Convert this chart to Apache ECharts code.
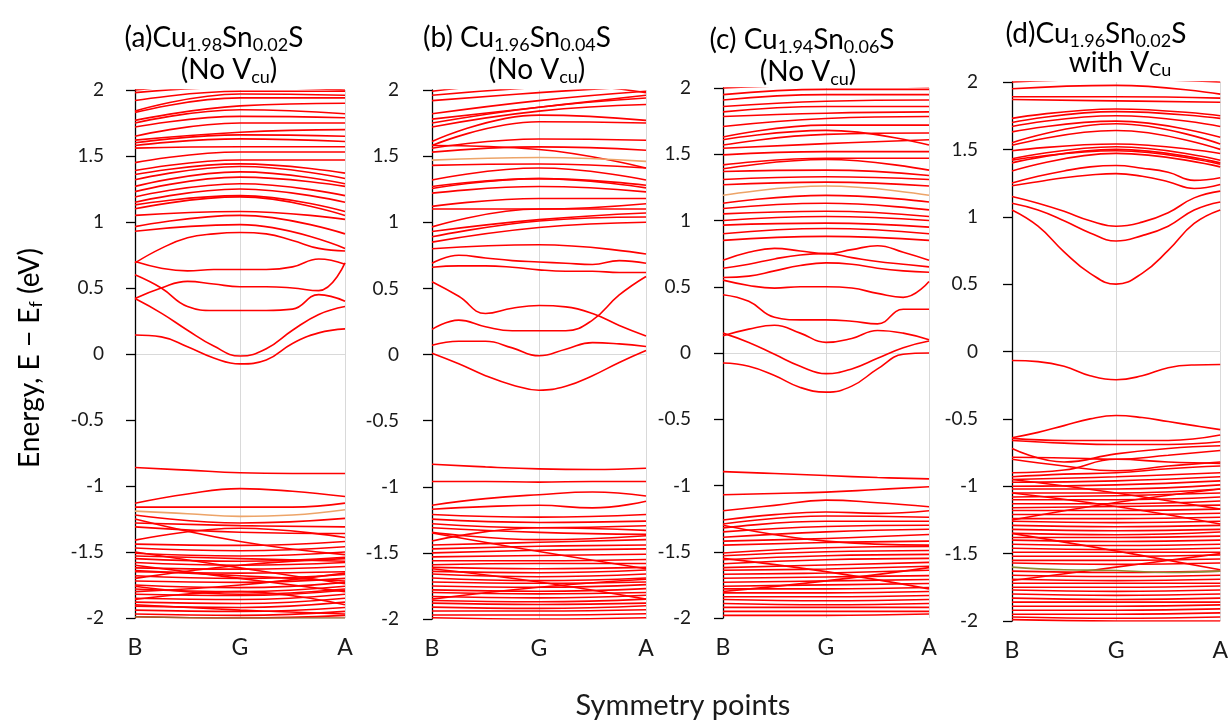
<!DOCTYPE html>
<html><head><meta charset="utf-8">
<style>html,body{margin:0;padding:0;background:#fff}#chart{width:1231px;height:721px}</style>
</head><body><div id="chart"></div>
<script src="https://cdn.jsdelivr.net/npm/echarts@6/dist/echarts.min.js"></script>
<script>
// k-path tick labels and positions (B, G, A)
const kLabels = ['B', 'G', 'A'];
const K3 = [0, 1, 2];
const K5 = [0, 0.5, 1, 1.5, 2];
const K9 = [0, 0.25, 0.5, 0.75, 1, 1.25, 1.5, 1.75, 2];

// ---- panel (a) Cu1.98Sn0.02S, no V_Cu ----
const aGap = [
  [0.69, 0.80, 0.88, 0.91, 0.92, 0.91, 0.86, 0.80, 0.78],
  [0.70, 0.65, 0.63, 0.64, 0.64, 0.64, 0.66, 0.72, 0.68],
  [0.42, 0.50, 0.55, 0.53, 0.51, 0.51, 0.50, 0.48, 0.69],
  [0.60, 0.50, 0.36, 0.33, 0.33, 0.33, 0.34, 0.45, 0.40],
  [0.42, 0.31, 0.18, 0.06, -0.015, 0.04, 0.18, 0.30, 0.36],
  [0.144, 0.13, 0.055, -0.03, -0.075, -0.045, 0.08, 0.16, 0.19]
];
const aLow = [
  [-0.86, -0.88, -0.90, -0.905, -0.905],
  [-1.13, -1.06, -1.02, -1.04, -1.08],
  [-1.16, -1.16, -1.16, -1.16, -1.13]
];
const aOrange = [[-1.19, -1.21, -1.23, -1.22, -1.18]];
const aBrown = [[-1.99, -2.0, -2.0]];
const aUpper = [
  [0.93, 0.98, 0.80], [0.965, 1.05, 0.91], [1.05, 1.08, 1.02], [1.10, 1.19, 1.05],
  [1.13, 1.20, 1.08], [1.15, 1.25, 1.15], [1.19, 1.29, 1.20], [1.23, 1.34, 1.27],
  [1.27, 1.38, 1.29], [1.32, 1.42, 1.33], [1.36, 1.44, 1.37], [1.39, 1.47, 1.47],
  [1.45, 1.53, 1.53], [1.56, 1.57, 1.57], [1.58, 1.63, 1.61], [1.60, 1.66, 1.65],
  [1.62, 1.68, 1.70], [1.65, 1.75, 1.75], [1.72, 1.80, 1.79], [1.75, 1.85, 1.82],
  [1.77, 1.88, 1.90], [1.83, 1.94, 1.94], [1.84, 1.97, 1.96], [1.92, 1.99, 1.99],
  [1.98, 2.02, 2.0], [2.0, 2.05, 2.03]
];
const aDense = [
  [-1.22, -1.28, -1.245], [-1.28, -1.30, -1.31], [-1.31, -1.35, -1.36], [-1.41, -1.32, -1.39],
  [-1.25, -1.42, -1.52], [-1.44, -1.45, -1.42], [-1.47, -1.49, -1.46], [-1.51, -1.53, -1.50],
  [-1.55, -1.57, -1.54], [-1.58, -1.60, -1.58], [-1.62, -1.63, -1.61], [-1.65, -1.66, -1.65],
  [-1.68, -1.70, -1.67], [-1.72, -1.73, -1.70], [-1.75, -1.77, -1.73], [-1.78, -1.80, -1.76],
  [-1.82, -1.83, -1.79], [-1.85, -1.86, -1.82], [-1.88, -1.89, -1.85], [-1.91, -1.92, -1.88],
  [-1.94, -1.95, -1.92], [-1.97, -1.98, -1.95], [-1.99, -2.0, -1.98], [-1.50, -1.62, -1.74],
  [-1.60, -1.70, -1.80], [-1.70, -1.60, -1.55], [-1.80, -1.75, -1.66], [-1.86, -1.80, -1.90],
  [-1.53, -1.55, -1.57], [-1.64, -1.68, -1.72], [-1.76, -1.82, -1.78], [-1.90, -1.94, -1.97]
];

// ---- panel (b) Cu1.96Sn0.04S, no V_Cu ----
const bGap = [
  [0.66, 0.67, 0.67, 0.66, 0.64, 0.63, 0.63, 0.62, 0.62],
  [0.69, 0.75, 0.73, 0.71, 0.70, 0.69, 0.68, 0.71, 0.69],
  [0.55, 0.44, 0.31, 0.35, 0.37, 0.36, 0.31, 0.22, 0.14],
  [0.19, 0.26, 0.21, 0.18, 0.18, 0.18, 0.26, 0.45, 0.59],
  [0.07, 0.10, 0.10, 0.05, -0.01, 0.04, 0.09, 0.08, 0.06],
  [0.01, -0.07, -0.16, -0.23, -0.27, -0.24, -0.16, -0.06, 0.03]
];
const bLow = [
  [-0.83, -0.85, -0.865, -0.87, -0.86],
  [-0.96, -0.96, -0.965, -0.96, -0.96],
  [-1.14, -1.09, -1.06, -1.04, -1.07],
  [-1.17, -1.15, -1.14, -1.16, -1.11]
];
const bOrange = [[1.47, 1.49, 1.46]];
const bUpper = [
  [0.80, 0.83, 0.76], [0.85, 0.96, 1.00], [0.89, 1.01, 1.04], [0.93, 1.02, 1.07],
  [0.965, 1.10, 1.10], [1.10, 1.10, 1.14], [1.12, 1.18, 1.18], [1.22, 1.27, 1.23],
  [1.255, 1.33, 1.26], [1.27, 1.33, 1.28], [1.32, 1.41, 1.32], [1.43, 1.44, 1.41],
  [1.53, 1.57, 1.545], [1.56, 1.63, 1.62], [1.58, 1.55, 1.41], [1.58, 1.76, 1.75],
  [1.61, 1.81, 1.77], [1.72, 1.84, 1.89], [1.75, 1.87, 1.94], [1.78, 1.87, 1.96],
  [1.82, 1.92, 1.99], [1.92, 1.98, 2.03], [1.96, 2.02, 2.05], [1.99, 2.05, 1.98]
];
const bDense = [
  [-1.21, -1.23, -1.21], [-1.245, -1.27, -1.26], [-1.28, -1.31, -1.295], [-1.31, -1.345, -1.36],
  [-1.41, -1.31, -1.33], [-1.345, -1.40, -1.37], [-1.44, -1.42, -1.40], [-1.47, -1.45, -1.44],
  [-1.50, -1.48, -1.47], [-1.35, -1.49, -1.62], [-1.53, -1.52, -1.51], [-1.56, -1.56, -1.55],
  [-1.59, -1.58, -1.58], [-1.61, -1.62, -1.61], [-1.64, -1.65, -1.63], [-1.66, -1.68, -1.66],
  [-1.69, -1.71, -1.69], [-1.72, -1.73, -1.72], [-1.75, -1.76, -1.74], [-1.78, -1.79, -1.77],
  [-1.80, -1.81, -1.80], [-1.83, -1.84, -1.82], [-1.86, -1.87, -1.85], [-1.88, -1.89, -1.88],
  [-1.91, -1.92, -1.90], [-1.94, -1.94, -1.93], [-1.97, -1.97, -1.96], [-1.99, -2.0, -1.99],
  [-1.62, -1.72, -1.85], [-1.85, -1.76, -1.70]
];

// ---- panel (c) Cu1.94Sn0.06S, no V_Cu ----
const cGap = [
  [0.70, 0.76, 0.79, 0.77, 0.75, 0.78, 0.81, 0.76, 0.70],
  [0.64, 0.67, 0.71, 0.74, 0.75, 0.72, 0.69, 0.67, 0.65],
  [0.57, 0.58, 0.62, 0.66, 0.68, 0.67, 0.64, 0.62, 0.61],
  [0.55, 0.51, 0.49, 0.50, 0.50, 0.49, 0.45, 0.42, 0.54],
  [0.44, 0.39, 0.27, 0.25, 0.25, 0.24, 0.22, 0.33, 0.33],
  [0.13, 0.18, 0.21, 0.15, 0.08, 0.11, 0.17, 0.15, 0.10],
  [0.15, 0.08, -0.01, -0.10, -0.156, -0.12, -0.04, 0.04, 0.09],
  [-0.076, -0.10, -0.17, -0.26, -0.295, -0.25, -0.12, -0.01, 0.0]
];
const cLow = [
  [-0.895, -0.91, -0.925, -0.94, -0.95],
  [-1.07, -1.06, -1.05, -1.03, -1.01],
  [-1.19, -1.15, -1.11, -1.13, -1.16],
  [-1.26, -1.22, -1.20, -1.21, -1.19]
];
const cOrange = [[1.19, 1.26, 1.19]];
const cUpper = [
  [0.85, 0.88, 0.85], [0.90, 0.94, 0.90], [0.965, 0.98, 0.95], [1.00, 1.03, 1.00],
  [1.05, 1.07, 1.03], [1.09, 1.13, 1.08], [1.13, 1.19, 1.14], [1.27, 1.29, 1.26],
  [1.31, 1.33, 1.31], [1.37, 1.38, 1.34], [1.39, 1.46, 1.38], [1.42, 1.47, 1.47],
  [1.495, 1.52, 1.52], [1.545, 1.58, 1.61], [1.57, 1.65, 1.66], [1.61, 1.68, 1.57],
  [1.63, 1.72, 1.72], [1.71, 1.77, 1.785], [1.785, 1.81, 1.82], [1.82, 1.86, 1.86],
  [1.86, 1.90, 1.91], [1.91, 1.95, 1.95], [1.95, 1.99, 1.99], [2.0, 2.02, 2.01]
];
const cDense = [
  [-1.29, -1.23, -1.24], [-1.32, -1.27, -1.27], [-1.35, -1.31, -1.30], [-1.39, -1.35, -1.33],
  [-1.42, -1.40, -1.37], [-1.30, -1.42, -1.45], [-1.45, -1.43, -1.42], [-1.51, -1.47, -1.46],
  [-1.53, -1.50, -1.49], [-1.56, -1.53, -1.52], [-1.59, -1.56, -1.55], [-1.62, -1.60, -1.58],
  [-1.64, -1.63, -1.61], [-1.67, -1.66, -1.64], [-1.70, -1.69, -1.68], [-1.73, -1.72, -1.71],
  [-1.76, -1.75, -1.74], [-1.78, -1.78, -1.77], [-1.81, -1.81, -1.80], [-1.84, -1.84, -1.83],
  [-1.86, -1.87, -1.86], [-1.89, -1.90, -1.89], [-1.92, -1.92, -1.92], [-1.95, -1.95, -1.95],
  [-1.98, -1.98, -1.97], [-1.55, -1.65, -1.78], [-1.80, -1.72, -1.62]
];

// ---- panel (d) Cu1.96Sn0.02S with V_Cu ----
const dGap = [
  [1.05, 0.93, 0.74, 0.58, 0.50, 0.58, 0.75, 0.95, 1.05],
  [1.10, 1.05, 0.97, 0.88, 0.82, 0.86, 0.93, 1.05, 1.11],
  [1.15, 1.10, 1.04, 0.97, 0.93, 0.96, 1.03, 1.14, 1.19],
  [1.23, 1.26, 1.29, 1.31, 1.32, 1.30, 1.26, 1.21, 1.24],
  [1.25, 1.30, 1.34, 1.37, 1.38, 1.36, 1.33, 1.27, 1.29],
  [-0.067, -0.075, -0.11, -0.18, -0.21, -0.18, -0.12, -0.10, -0.097],
  [-0.64, -0.60, -0.55, -0.50, -0.475, -0.49, -0.52, -0.55, -0.58]
];
const dLow = [
  [-0.645, -0.66, -0.66, -0.66, -0.62],
  [-0.66, -0.68, -0.69, -0.69, -0.67],
  [-0.72, -0.82, -0.76, -0.72, -0.70],
  [-0.785, -0.79, -0.80, -0.77, -0.735],
  [-0.80, -0.85, -0.885, -0.85, -0.82],
  [-0.90, -0.88, -0.80, -0.82, -0.83],
  [-0.93, -0.91, -0.90, -0.87, -0.85]
];
const dOlive = [[-1.60, -1.62, -1.625, -1.64, -1.63]];
const dUpper = [
  [1.34, 1.47, 1.37], [1.40, 1.50, 1.40], [1.42, 1.49, 1.39], [1.43, 1.52, 1.42],
  [1.49, 1.54, 1.47], [1.53, 1.64, 1.50], [1.55, 1.69, 1.54], [1.63, 1.71, 1.59],
  [1.67, 1.75, 1.67], [1.70, 1.78, 1.73], [1.73, 1.80, 1.75], [1.87, 1.86, 1.85],
  [1.89, 1.89, 1.88], [1.95, 1.975, 1.91], [2.0, 2.02, 2.0]
];
const dDense = [
  [-0.95, -0.93, -0.90], [-0.97, -0.96, -0.93], [-1.00, -0.99, -0.96], [-1.02, -1.02, -0.99],
  [-1.05, -1.05, -1.02], [-1.08, -1.07, -1.05], [-1.10, -1.10, -1.08], [-1.13, -1.13, -1.11],
  [-1.16, -1.15, -1.14], [-1.18, -1.18, -1.17], [-1.21, -1.21, -1.20], [-1.24, -1.24, -1.23],
  [-1.26, -1.27, -1.26], [-1.29, -1.30, -1.29], [-1.32, -1.33, -1.32], [-1.35, -1.36, -1.34],
  [-1.38, -1.38, -1.37], [-1.40, -1.41, -1.40], [-1.43, -1.44, -1.43], [-1.46, -1.47, -1.46],
  [-1.49, -1.49, -1.49], [-1.52, -1.52, -1.51], [-1.55, -1.55, -1.54], [-1.57, -1.58, -1.57],
  [-1.63, -1.64, -1.63], [-1.66, -1.67, -1.66], [-1.69, -1.70, -1.69], [-1.72, -1.72, -1.72],
  [-1.75, -1.75, -1.74], [-1.77, -1.78, -1.77], [-1.80, -1.81, -1.80], [-1.83, -1.84, -1.83],
  [-1.86, -1.86, -1.86], [-1.89, -1.89, -1.88], [-1.92, -1.92, -1.91], [-1.95, -1.95, -1.94],
  [-1.97, -1.98, -1.97], [-1.99, -2.0, -2.0], [-1.05, -1.15, -1.28], [-1.25, -1.12, -1.02],
  [-1.35, -1.48, -1.62], [-1.70, -1.60, -1.50], [-0.95, -1.05, -1.17]
];

// panel frames (px)
const panels = [
  { left: 135, top: 90, width: 210, height: 528, off: 7 },
  { left: 432, top: 90, width: 214, height: 529, off: 9 },
  { left: 723, top: 88, width: 206, height: 530, off: 8 },
  { left: 1012, top: 82, width: 211, height: 539, off: 10 }
];
const bandSets = [
  [[aGap, aLow, aUpper, aDense], aOrange, aBrown],
  [[bGap, bLow, bUpper, bDense], bOrange, []],
  [[cGap, cLow, cUpper, cDense], cOrange, []],
  [[dGap, dLow, dUpper, dDense], [], dOlive]
];

const RED = '#ff0000';
function kpath(n) { return n === 3 ? K3 : n === 5 ? K5 : K9; }
function band(vals, idx, color) {
  const ks = kpath(vals.length);
  return {
    type: 'line', xAxisIndex: idx, yAxisIndex: idx, silent: true,
    symbol: 'none', smooth: 0.45, clip: true,
    lineStyle: { color: color, width: 1.6 },
    data: vals.map((v, j) => [ks[j], v])
  };
}

const series = [];
bandSets.forEach((set, i) => {
  set[0].forEach(group => group.forEach(b => series.push(band(b, i, RED))));
  set[1].forEach(b => series.push(band(b, i, '#eda468')));
  set[2].forEach(b => series.push(band(b, i, i === 0 ? '#a0602a' : '#8f8a30')));
});

const FONT = 'Lato, "Open Sans", sans-serif';
const TXT = '#1a1a1a';
const rich = {
  n: { fontSize: 28, fontFamily: FONT, color: TXT, lineHeight: 28, verticalAlign: 'top' },
  s: { fontSize: 18, fontFamily: FONT, color: TXT, lineHeight: 18, padding: [12, 0, 0, 0], verticalAlign: 'top' }
};
function label(x, y, text) {
  return { type: 'text', x: x, y: y, style: { text: text, rich: rich, align: 'center', verticalAlign: 'middle' } };
}

const option = {
  animation: false,
  backgroundColor: '#ffffff',
  grid: panels.map(p => ({ left: p.left, top: p.top, width: p.width, height: p.height })),
  xAxis: panels.map((p, i) => ({
    type: 'value', gridIndex: i, min: 0, max: 2, interval: 1,
    axisLine: { show: false }, axisTick: { show: false },
    axisLabel: { margin: 18, fontSize: 23, fontFamily: FONT, color: TXT, formatter: v => kLabels[Math.round(v)] },
    splitLine: { show: true, lineStyle: { color: ['rgba(0,0,0,0)', '#d9d9d9', '#d9d9d9'], width: 1 } }
  })),
  yAxis: panels.map((p, i) => ({
    type: 'value', gridIndex: i, min: -2, max: 2, interval: 0.5, offset: p.off,
    axisLine: { show: true, lineStyle: { color: '#000', width: 1.3 } },
    axisTick: { show: true, length: 9, lineStyle: { color: '#000', width: 1.3 } },
    axisLabel: { margin: 24, fontSize: 19, fontFamily: FONT, color: TXT },
    splitLine: { show: true, lineStyle: { color: ['rgba(0,0,0,0)', 'rgba(0,0,0,0)', 'rgba(0,0,0,0)', 'rgba(0,0,0,0)', '#d9d9d9', 'rgba(0,0,0,0)', 'rgba(0,0,0,0)', 'rgba(0,0,0,0)', 'rgba(0,0,0,0)'], width: 1 } }
  })),
  graphic: [
    label(214, 38, '{n|(a)Cu}{s|1.98}{n|Sn}{s|0.02}{n|S}'),
    label(229, 70, '{n|(No V}{s|cu}{n|)}'),
    label(517, 38, '{n|(b) Cu}{s|1.96}{n|Sn}{s|0.04}{n|S}'),
    label(537, 70, '{n|(No V}{s|cu}{n|)}'),
    label(802, 40, '{n|(c) Cu}{s|1.94}{n|Sn}{s|0.06}{n|S}'),
    label(808, 72, '{n|(No V}{s|cu}{n|)}'),
    label(1096, 34, '{n|(d)Cu}{s|1.96}{n|Sn}{s|0.02}{n|S}'),
    label(1120, 63, '{n|with V}{s|Cu}'),
    {
      type: 'text', x: 30, y: 358, rotation: Math.PI / 2,
      style: {
        text: '{n|Energy, E − E}{s|f}{n| (eV)}', align: 'center', verticalAlign: 'middle',
        rich: {
          n: { fontSize: 28, fontFamily: FONT, color: TXT, lineHeight: 28, verticalAlign: 'top' },
          s: { fontSize: 18, fontFamily: FONT, color: TXT, lineHeight: 18, padding: [11, 0, 0, 0], verticalAlign: 'top' }
        }
      }
    },
    { type: 'text', x: 683, y: 706, style: { text: 'Symmetry points', font: '29px ' + FONT, fill: TXT, align: 'center', verticalAlign: 'middle' } }
  ],
  series: series
};

const chart = echarts.init(document.getElementById('chart'));
chart.setOption(option);
</script>
</body></html>
